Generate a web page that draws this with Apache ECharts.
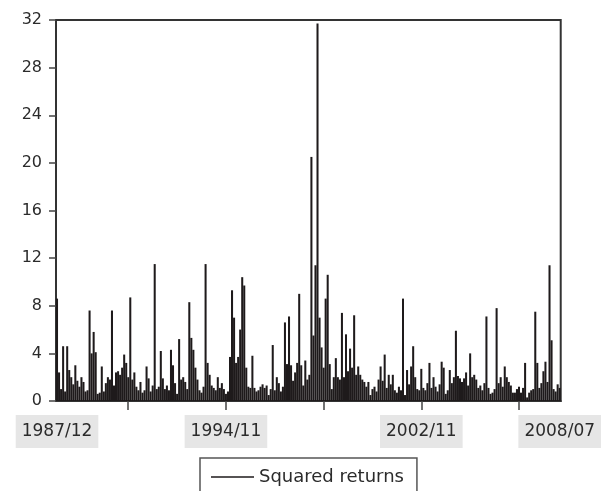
<!DOCTYPE html>
<html>
<head>
<meta charset="utf-8">
<script src="https://cdn.jsdelivr.net/npm/echarts@6/dist/echarts.min.js"></script>
<style>
  html, body { margin: 0; padding: 0; background: #fff; }
  #main { width: 604px; height: 491px; }
</style>
</head>
<body>
<div id="main"></div>
<script>
 // monthly squared returns, 1987/12 .. 2008/07
 var sq1987 = [8.6, 2.4, 1.0, 4.6, 0.8, 4.6, 2.6, 2.0, 1.4, 3.0, 1.7, 1.2, 2.0, 1.6, 0.8, 0.9, 7.6, 4.0, 5.8, 4.1,
   0.6, 0.7, 2.9, 0.8, 1.5, 2.0, 1.8, 7.6, 1.3, 2.4, 2.5, 2.2, 2.8, 3.9, 3.2, 2.0, 8.7, 1.8, 2.4, 1.2,
   0.9, 1.6, 0.7, 0.9, 2.9, 1.9, 0.8, 1.3, 11.5, 1.0];
 var sq1992 = [1.2, 4.2, 1.9, 1.0, 1.3, 0.9, 4.3, 3.0, 1.5, 0.6, 5.2, 1.8, 2.0, 1.6, 1.0, 8.3, 5.3, 4.3, 2.8, 1.8,
   0.9, 0.7, 1.2, 11.5, 3.2, 2.2, 1.3, 1.1, 0.9, 2.0, 1.1, 1.5, 1.0, 0.6, 0.8, 3.7, 9.3, 7.0, 3.2, 3.7,
   6.0, 10.4, 9.7, 2.8, 1.2, 1.1, 3.8, 1.1];
 var sq1996 = [0.8, 0.9, 1.2, 1.4, 1.1, 1.3, 0.5, 1.0, 4.7, 0.9, 2.0, 1.5, 0.8, 1.2, 6.6, 3.1, 7.1, 3.0, 1.7, 2.4,
   3.2, 9.0, 3.0, 1.3, 3.4, 1.8, 2.2, 20.5, 5.5, 11.4, 31.7, 7.0, 4.5, 2.8, 8.6, 10.6, 3.1, 1.0, 2.0, 3.6,
   2.0, 1.8, 7.4, 2.0, 5.6, 2.5, 4.4, 2.8, 7.2, 2.2];
 var sq2000 = [2.9, 2.2, 1.8, 1.6, 1.2, 1.6, 0.5, 1.0, 1.2, 0.8, 1.8, 2.9, 1.7, 3.9, 1.1, 2.2, 1.4, 2.2, 0.9, 0.7,
   1.2, 0.9, 8.6, 0.5, 2.6, 1.4, 2.9, 4.6, 2.0, 1.0, 0.9, 2.7, 1.1, 0.9, 1.5, 3.2, 1.1, 2.0, 1.2, 0.8,
   1.4, 3.3, 2.8, 0.6, 0.9, 2.6, 1.5, 2.0, 5.9, 2.1];
 var sq2004 = [1.9, 1.6, 1.9, 2.4, 1.3, 4.0, 2.0, 2.2, 1.8, 1.1, 1.3, 0.9, 1.5, 7.1, 1.1, 0.6, 0.7, 1.0, 7.8, 1.5,
   2.0, 1.2, 2.9, 2.0, 1.6, 1.3, 0.7, 0.7, 1.0, 1.2, 0.7, 1.1, 3.2, 0.3, 0.7, 0.9, 1.0, 7.5, 3.2, 1.1,
   1.5, 2.5, 3.3, 1.6, 11.4, 5.1, 1.0, 0.8, 1.4, 1.1];

 var squaredReturns = sq1987.concat(sq1992, sq1996, sq2000, sq2004);

 // categories: one per month
 var months = [];
 var yy = 1987, mm = 12;
 while (months.length < squaredReturns.length) {
   months.push(yy + '/' + (mm < 10 ? '0' + mm : mm));
   mm++;
   if (mm > 12) { mm = 1; yy++; }
 }

 var labelMonths = ['1987/12', '1994/11', '2002/11', '2008/07'];
 var tickMonths = ['1990/11', '1994/11', '1998/11', '2002/11', '2006/11'];
 var labelIdx = labelMonths.map(function(m) { return months.indexOf(m); });
 var tickIdx = tickMonths.map(function(m) { return months.indexOf(m); });

 var myChart = echarts.init(document.getElementById('main'));

 var option = {
   animation: false,
   textStyle: { fontFamily: 'DejaVu Sans' },
   grid: {
     left: 56,
     right: 39,
     top: 20,
     bottom: 90,
     show: true,
     borderColor: '#333',
     borderWidth: 2
   },
   legend: {
     data: [{ name: 'Squared returns', icon: 'rect' }],
     left: 200,
     top: 458,
     padding: [10, 13, 12, 11],
     itemWidth: 43,
     itemHeight: 1.5,
     borderColor: '#555',
     borderWidth: 1.5,
     textStyle: { fontSize: 18, color: '#2b2b2b', fontFamily: 'DejaVu Sans' }
   },
   xAxis: [{
     type: 'category',
     data: months,
     axisLine: { lineStyle: { color: '#333', width: 2 } },
     axisTick: {
       show: true,
       alignWithLabel: true,
       length: 9,
       lineStyle: { color: '#444', width: 1.5 },
       interval: function(idx) {
         return tickIdx.indexOf(idx) >= 0;
       }
     },
     axisLabel: {
       interval: function(idx) {
         return labelIdx.indexOf(idx) >= 0;
       },
       margin: 14,
       fontSize: 17,
       color: '#2b2b2b',
       backgroundColor: '#e6e6e6',
       padding: [8, 6, 8, 6]
     },
     splitLine: { show: false }
   }],
   yAxis: [{
     type: 'value',
     min: 0,
     max: 32,
     interval: 4,
     axisLine: { show: true, lineStyle: { color: '#333', width: 2 } },
     axisTick: { show: true, length: 7, lineStyle: { color: '#444', width: 1.5 } },
     axisLabel: { margin: 14, fontSize: 16, color: '#2b2b2b' },
     splitLine: { show: false }
   }],
   series: [{
     name: 'Squared returns',
     type: 'bar',
     data: squaredReturns,
     barCategoryGap: '0%',
     itemStyle: { color: '#1e1a1b' }
   }]
 };

 myChart.setOption(option);
</script>
</body>
</html>
